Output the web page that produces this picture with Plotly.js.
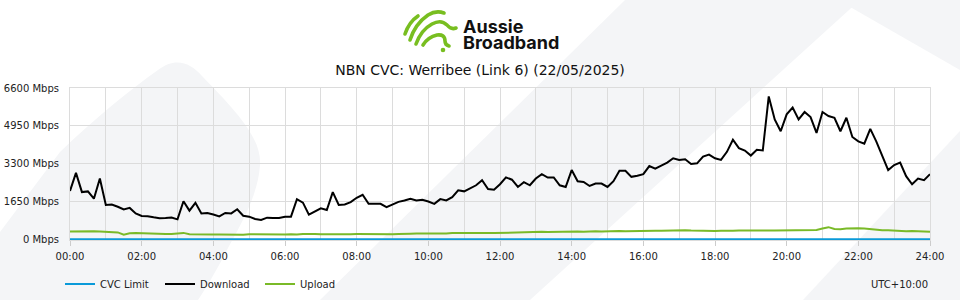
<!DOCTYPE html>
<html>
<head>
<meta charset="utf-8">
<script src="https://cdn.plot.ly/plotly-3.0.1.min.js"></script>
<style>html,body{margin:0;padding:0;background:#fff;}#chart{width:960px;height:300px;}</style>
</head>
<body>
<div id="chart"></div>
<script>
// ---- data ----
const chartTitle = 'NBN CVC: Werribee (Link 6) (22/05/2025)';
const seriesNames = ['CVC Limit', 'Download', 'Upload'];
const seriesColors = ['#0a9ad9', '#000000', '#7aba28'];
const sampleStepHours = 1 / 6; // 10-minute samples from 00:00 to 24:00

const downloadMbps = [
  2106, 2900, 2060, 2090, 1770, 2650, 1500, 1520, 1420, 1300, 1370, 1130,
  1020, 1010, 960, 920, 930, 950, 870, 1660, 1250, 1590, 1130, 1150,
  1080, 1000, 1150, 1130, 1310, 1030, 987, 884, 840, 943, 928, 928,
  987, 987, 1750, 1600, 1075, 1208, 1355, 1280, 2060, 1500, 1517, 1620,
  1812, 1944, 1547, 1547, 1547, 1400, 1517, 1635, 1694, 1768, 1694, 1723,
  1650, 1547, 1753, 1694, 1841, 2136, 2092, 2224, 2357, 2578, 2195, 2165,
  2401, 2700, 2600, 2283, 2490, 2357, 2651, 2843, 2696, 2696, 2357, 2283,
  3020, 2534, 2504, 2327, 2430, 2430, 2283, 2534, 2990, 2990, 2725, 2769,
  2843, 3196, 3078, 3211, 3344, 3535, 3462, 3491, 3285, 3314, 3609, 3697,
  3535, 3462, 3815, 4345, 3977, 3874, 3653, 3903, 3874, 6231, 5229, 4714,
  5450, 5745, 5229, 5553, 5332, 4640, 5553, 5376, 5303, 4714, 5303, 4463,
  4272, 4169, 4817, 4272, 3609, 3020, 3241, 3344, 2754, 2401, 2651, 2578,
  2843
];
const uploadMbps = [
  340, 350, 330, 360, 350, 340, 330, 330, 300, 200, 260, 280,
  270, 230, 220, 220, 230, 230, 270, 280, 220, 210, 210, 220,
  210, 210, 200, 210, 210, 200, 220, 215, 225, 205, 225, 220,
  215, 225, 205, 230, 215, 230, 220, 235, 225, 220, 235, 225,
  230, 225, 235, 245, 235, 235, 225, 230, 250, 245, 255, 250,
  260, 250, 265, 255, 270, 260, 275, 270, 280, 265, 275, 270,
  280, 285, 275, 280, 290, 300, 320, 330, 320, 330, 325, 335,
  335, 340, 330, 345, 350, 340, 355, 360, 365, 350, 360, 370,
  370, 380, 375, 370, 385, 380, 390, 400, 385, 375, 380, 370,
  360, 375, 365, 370, 380, 375, 370, 365, 360, 380, 385, 390,
  395, 400, 400, 410, 405, 410, 470, 530, 450, 440, 470, 490,
  480, 470, 440, 420, 400, 390, 370, 360, 350, 360, 345, 340,
  335
];
const cvcHours = [0, 24];
const cvcLimitMbps = [0, 0];

const yTickValues = [0, 1650, 3300, 4950, 6600];
const yTickLabels = ['0 Mbps', '1650 Mbps', '3300 Mbps', '4950 Mbps', '6600 Mbps'];
const xTickValues = [0, 2, 4, 6, 8, 10, 12, 14, 16, 18, 20, 22, 24];
const xTickLabels = ['00:00', '02:00', '04:00', '06:00', '08:00', '10:00', '12:00',
                     '14:00', '16:00', '18:00', '20:00', '22:00', '24:00'];
const xMinorGrid = [1, 3, 5, 7, 9, 11, 13, 15, 17, 19, 21, 23];
const timezoneLabel = 'UTC+10:00';
const brandLines = ['Aussie', 'Broadband'];

// ---- helpers ----
const sampleHours = downloadMbps.map((_, i) => i * sampleStepHours);
const PL = 70, PT = 88, PW = 860, PH = 152;
const px = x => (x - PL) / PW;
const py = y => (PT + PH - y) / PH;
const FONT = 'DejaVu Sans, sans-serif';
const GRID = '#dcdcdc';

const bgSvg = `<svg xmlns="http://www.w3.org/2000/svg" width="960" height="300" viewBox="0 0 960 300">
<g fill="#f4f5f7">
<path d="M0,232 L60,152 C95,118 130,90 158,70 C175,57 190,62 202,76 C235,110 262,138 260,165 C258,195 242,222 228,248 C218,268 206,288 198,300 L0,300 Z"/>
<path d="M320,300 L625,0 L860,0 L530,300 Z"/>
<path d="M803,300 L960,131 L960,300 Z"/>
<path d="M838,0 L960,0 L960,70 Z"/>
</g></svg>`;

const logoSvg = `<svg xmlns="http://www.w3.org/2000/svg" width="60" height="46" viewBox="0 0 60 46">
<g fill="none" stroke="#78be20" stroke-width="3.6" stroke-linecap="round">
<path d="M5,27 Q9,15 18,9"/>
<path d="M10,33 Q15,17 28,8 Q36,3 44,6"/>
<path d="M16,37 Q21,23 32,17 Q41,12 47,18 Q51,23 56,21"/>
<path d="M23,38 Q28,30 37,28 Q45,27 45,34 Q45,38 49,39"/>
</g>
<circle cx="43" cy="43" r="2.3" fill="#78be20"/>
</svg>`;
const svgUri = s => 'data:image/svg+xml;charset=utf-8,' + encodeURIComponent(s);

const traces = [
  { x: cvcHours, y: cvcLimitMbps, name: seriesNames[0], type: 'scatter', mode: 'lines',
    line: { color: seriesColors[0], width: 2 }, hoverinfo: 'skip' },
  { x: sampleHours, y: downloadMbps, name: seriesNames[1], type: 'scatter', mode: 'lines',
    line: { color: seriesColors[1], width: 2 }, hoverinfo: 'skip' },
  { x: sampleHours, y: uploadMbps, name: seriesNames[2], type: 'scatter', mode: 'lines',
    line: { color: seriesColors[2], width: 2 }, hoverinfo: 'skip' }
];

const layout = {
  width: 960, height: 300,
  margin: { l: PL, r: 960 - PL - PW, t: PT, b: 300 - PT - PH, pad: 0 },
  paper_bgcolor: '#ffffff', plot_bgcolor: 'rgba(0,0,0,0)',
  font: { family: FONT, size: 10, color: '#222' },
  title: { text: chartTitle, x: 0.5, xanchor: 'center', xref: 'container',
           y: 1 - 70 / 300, yanchor: 'middle', yref: 'container',
           font: { family: FONT, size: 14, color: '#111' } },
  xaxis: {
    range: [0, 24], tickmode: 'array', tickvals: xTickValues, ticktext: xTickLabels,
    showgrid: true, gridcolor: GRID, gridwidth: 1,
    minor: { tickmode: 'array', tickvals: xMinorGrid, showgrid: true, gridcolor: GRID, ticks: '' },
    ticks: 'outside', ticklen: 5, tickcolor: '#ccc', tickwidth: 1, ticklabelstandoff: 2,
    showline: true, linecolor: GRID, mirror: true, zeroline: false,
    tickfont: { family: FONT, size: 10, color: '#222' }, fixedrange: true
  },
  yaxis: {
    range: [-30, 6600], tickmode: 'array', tickvals: yTickValues, ticktext: yTickLabels,
    showgrid: true, gridcolor: GRID, gridwidth: 1, zeroline: false,
    ticks: '', ticklabelstandoff: 8,
    showline: true, linecolor: GRID, mirror: true,
    tickfont: { family: FONT, size: 10, color: '#222' }, fixedrange: true
  },
  showlegend: true,
  legend: {
    orientation: 'h', xref: 'container', yref: 'container',
    x: 60 / 960, xanchor: 'left', y: 1 - 284 / 300, yanchor: 'middle',
    entrywidth: 55, entrywidthmode: 'pixels', itemwidth: 30,
    font: { family: FONT, size: 10, color: '#222' }, bgcolor: 'rgba(0,0,0,0)',
    tracegroupgap: 0, itemclick: false, itemdoubleclick: false
  },
  annotations: [
    { text: timezoneLabel, xref: 'paper', yref: 'paper', x: px(930), y: py(284),
      xanchor: 'right', yanchor: 'middle', showarrow: false,
      font: { family: FONT, size: 10, color: '#222' } },
    { text: brandLines[0], xref: 'paper', yref: 'paper', x: px(461), y: py(27),
      xanchor: 'left', yanchor: 'middle', showarrow: false,
      font: { family: 'Inter, Liberation Sans, sans-serif', size: 18, weight: 700, color: '#111' } },
    { text: brandLines[1], xref: 'paper', yref: 'paper', x: px(461), y: py(42),
      xanchor: 'left', yanchor: 'middle', showarrow: false,
      font: { family: 'Inter, Liberation Sans, sans-serif', size: 18, weight: 700, color: '#111' } }
  ],
  images: [
    { source: svgUri(bgSvg), xref: 'paper', yref: 'paper', x: px(0), y: py(0),
      sizex: 960 / PW, sizey: 300 / PH, xanchor: 'left', yanchor: 'top',
      sizing: 'stretch', layer: 'below' },
    { source: svgUri(logoSvg), xref: 'paper', yref: 'paper', x: px(400), y: py(7),
      sizex: 60 / PW, sizey: 46 / PH, xanchor: 'left', yanchor: 'top',
      sizing: 'stretch', layer: 'above' }
  ]
};

Plotly.newPlot('chart', traces, layout, { staticPlot: true, displayModeBar: false });
</script>
</body>
</html>
